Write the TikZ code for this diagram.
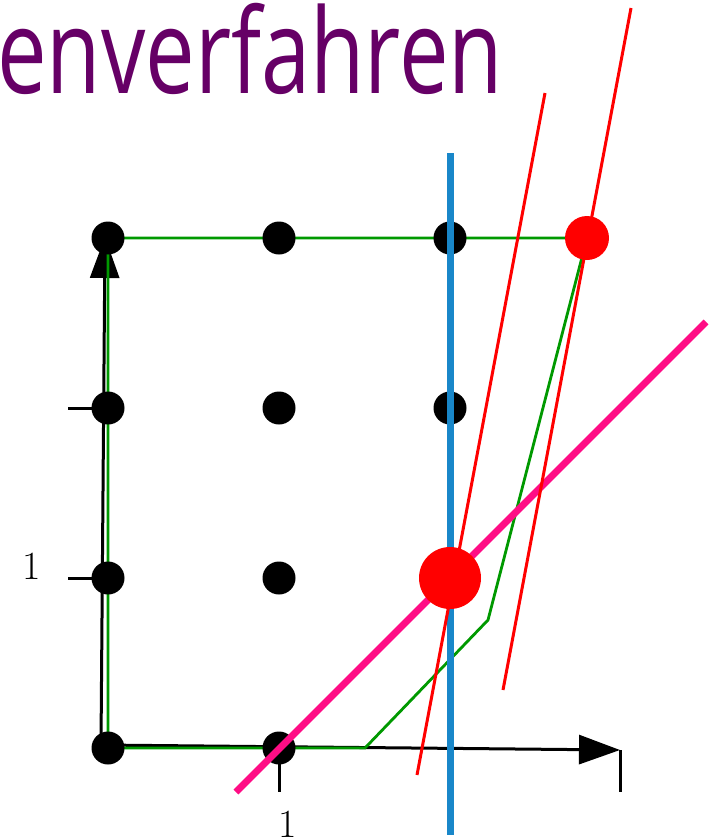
\documentclass[tikz,border=0pt]{standalone}
\usepackage{fontspec}
\newfontfamily\titlefont{Open Sans}
\usepackage{xcolor}
\usepackage{tikz}
\usetikzlibrary{arrows.meta, positioning}
\definecolor{mypurple}{rgb}{0.4, 0.0, 0.4}
\definecolor{mygreen}{rgb}{0.0, 0.6, 0.0}
\definecolor{myblue}{rgb}{0.1, 0.53, 0.79}
\definecolor{mymagenta}{rgb}{1.0, 0.05, 0.52}
\tikzstyle{dot} = [circle, fill=black, inner sep=0pt, minimum size=33pt]
\tikzstyle{reddot} = [circle, fill=red, inner sep=0pt, minimum size=44pt]
\tikzstyle{bigreddot} = [circle, fill=red, inner sep=0pt, minimum size=62pt]
\tikzstyle{axis} = [line width=3pt, -{Triangle[length=41pt, width=29pt]}]
\tikzstyle{tick} = [line width=3pt]
\tikzstyle{path} = [line width=2.8pt, draw=mygreen]
\tikzstyle{cut} = [line width=3pt, draw=red]
\tikzstyle{title} = [text=mypurple, inner sep=0pt, font=\titlefont\fontsize{118}{122}\selectfont]
\tikzstyle{lbl} = [inner sep=0pt, font=\fontsize{40}{44}\selectfont]

\begin{document}
\begin{tikzpicture}[x=1pt, y=-1pt]
    \useasboundingbox (0,0) rectangle (716,838);
    \node[title, anchor=base west] (head) at (-3,93) {\scalebox{0.75}[1]{enverfahren}};

    % grid points, column/row
    \foreach \x/\c in {108/1, 279/2, 450/3}
        \foreach \y/\r in {238/4, 408/3, 578/2, 748/1}
            \coordinate (g\c\r) at (\x,\y);

    % axes
    \coordinate (orig) at (101,745);
    \coordinate (xend) at (620,750);
    \coordinate (yend) at (105,237);
    \draw[axis] (orig) -- (xend);
    \draw[axis] (orig) -- (yend);
    \draw[tick] (xend) -- ++(0,42);
    \draw[tick] (g21) -- ++(0,44);
    \draw[tick] (g12) -- ++(-40,0);
    \draw[tick] (g13) -- ++(-40,0);
    \node[lbl] (xlab) at (288,824) {1};
    \node[lbl] (ylab) at (32,566) {1};

    % green polygon
    \coordinate (k1) at (488,620);
    \coordinate (k2) at (365,748);
    \coordinate (corner) at (587,238);
    \draw[path] (g14) -- (corner) -- (k1) -- (k2) -- (g11) -- cycle;

    % black points
    \foreach \p in {g11, g21, g12, g22, g13, g23, g33, g14, g24, g34}
        \node[dot] (d-\p) at (\p) {};

    % lines
    \coordinate (bt) at (450,153);
    \coordinate (bb) at (450,835);
    \draw[line width=7pt, myblue] (bt) -- (bb);
    \coordinate (mb) at (236,792);
    \coordinate (mt) at (706,322);
    \draw[line width=7pt, mymagenta] (mb) -- (mt);
    \coordinate (ra) at (545,93);
    \coordinate (rb) at (417,775);
    \draw[cut] (ra) -- (rb);
    \coordinate (rc) at (631,8);
    \coordinate (rd) at (503,690);
    \draw[cut] (rc) -- (rd);

    % red points
    \node[reddot] (hit) at (corner) {};
    \node[bigreddot] (best) at (g32) {};
\end{tikzpicture}
\end{document}
